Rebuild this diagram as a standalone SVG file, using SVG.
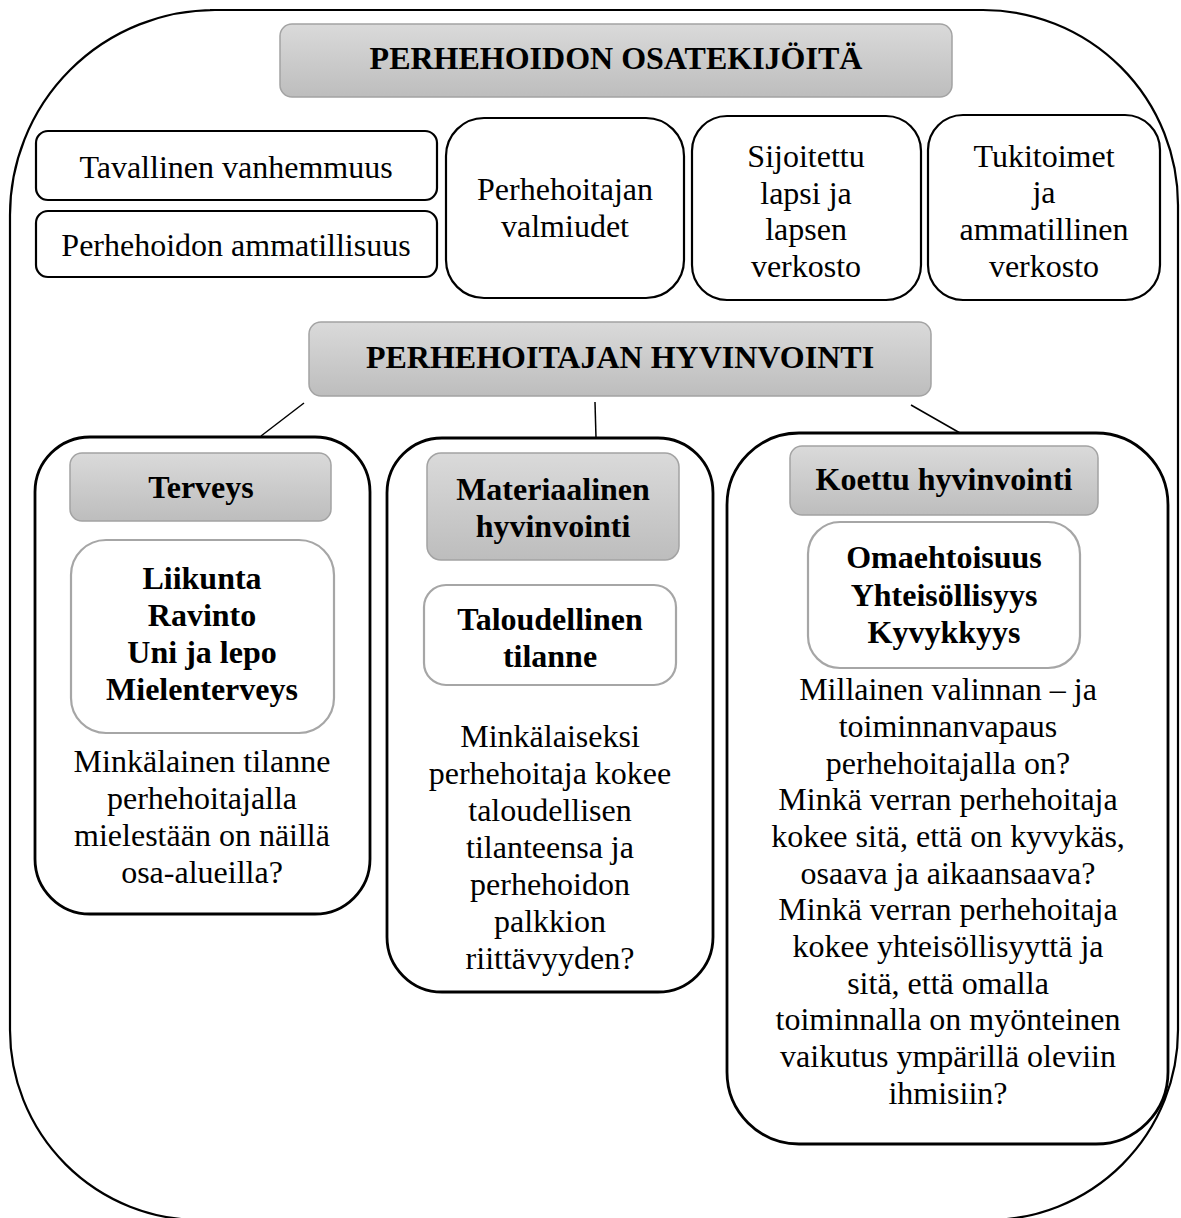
<svg xmlns="http://www.w3.org/2000/svg" width="1181" height="1218" viewBox="0 0 1181 1218">
<defs>
<linearGradient id="g" x1="0" y1="0" x2="0" y2="1">
<stop offset="0" stop-color="#dadada"/>
<stop offset="1" stop-color="#bdbdbd"/>
</linearGradient>
<style>
text{font-family:"Liberation Serif","Times New Roman",serif;font-size:32px;fill:#000;text-anchor:middle}
.b{font-weight:bold}
.hdr{fill:url(#g);stroke:#a3a3a3;stroke-width:1.5}
.box{fill:#fff;stroke:#000;stroke-width:2.2}
.grp{fill:#fff;stroke:#000;stroke-width:2.8}
.inner{fill:#fff;stroke:#a6a6a6;stroke-width:2.2}
.con{stroke:#000;stroke-width:1.5;fill:none}
</style>
</defs>
<rect width="1181" height="1218" fill="#fff"/>
<g id="outer">
<path d="M 210 10 H 983 A 195 195 0 0 1 1178 205 V 1030 A 190 190 0 0 1 988 1220 H 200 A 190 190 0 0 1 10 1030 V 215 A 205 205 0 0 1 215 10 Z" fill="none" stroke="#000" stroke-width="2.2"/>
</g>
<g id="title-osatekijoita">
<rect class="hdr" x="280" y="24" width="672" height="73" rx="12"/>
<text class="b" x="616" y="69">PERHEHOIDON OSATEKIJÖITÄ</text>
</g>
<g id="tavallinen">
<rect class="box" x="36" y="131" width="401" height="69" rx="12"/>
<text x="236" y="178">Tavallinen vanhemmuus</text>
</g>
<g id="ammatillisuus">
<rect class="box" x="36" y="211" width="401" height="66" rx="12"/>
<text x="236" y="256">Perhehoidon ammatillisuus</text>
</g>
<g id="valmiudet">
<rect class="box" x="446" y="118" width="238" height="180" rx="38"/>
<text x="565" y="200">Perhehoitajan</text>
<text x="565" y="237">valmiudet</text>
</g>
<g id="sijoitettu">
<rect class="box" x="692" y="116" width="229" height="184" rx="35"/>
<text x="806" y="167">Sijoitettu</text>
<text x="806" y="204">lapsi ja</text>
<text x="806" y="240">lapsen</text>
<text x="806" y="277">verkosto</text>
</g>
<g id="tukitoimet">
<rect class="box" x="928" y="115" width="232" height="185" rx="35"/>
<text x="1044" y="167">Tukitoimet</text>
<text x="1044" y="203">ja</text>
<text x="1044" y="240">ammatillinen</text>
<text x="1044" y="277">verkosto</text>
</g>
<g id="title-hyvinvointi">
<rect class="hdr" x="309" y="322" width="622" height="74" rx="12"/>
<text class="b" x="620" y="368">PERHEHOITAJAN HYVINVOINTI</text>
</g>
<g id="connectors">
<line class="con" x1="304" y1="403" x2="261" y2="436"/>
<line class="con" x1="595" y1="402" x2="596" y2="438"/>
<line class="con" x1="911" y1="405" x2="960" y2="433"/>
</g>
<g id="terveys">
<rect class="grp" x="35" y="437" width="335" height="477" rx="55"/>
<rect class="hdr" x="70" y="453" width="261" height="68" rx="12"/>
<text class="b" x="201" y="498">Terveys</text>
<rect class="inner" x="71" y="540" width="263" height="193" rx="35"/>
<text class="b" x="202" y="589">Liikunta</text>
<text class="b" x="202" y="626">Ravinto</text>
<text class="b" x="202" y="663">Uni ja lepo</text>
<text class="b" x="202" y="700">Mielenterveys</text>
<text x="202" y="772">Minkälainen tilanne</text>
<text x="202" y="809">perhehoitajalla</text>
<text x="202" y="846">mielestään on näillä</text>
<text x="202" y="883">osa-alueilla?</text>
</g>
<g id="materiaalinen">
<rect class="grp" x="387" y="438" width="326" height="554" rx="55"/>
<rect class="hdr" x="427" y="453" width="252" height="107" rx="14"/>
<text class="b" x="553" y="500">Materiaalinen</text>
<text class="b" x="553" y="537">hyvinvointi</text>
<rect class="inner" x="424" y="585" width="252" height="100" rx="22"/>
<text class="b" x="550" y="630">Taloudellinen</text>
<text class="b" x="550" y="667">tilanne</text>
<text x="550" y="747">Minkälaiseksi</text>
<text x="550" y="784">perhehoitaja kokee</text>
<text x="550" y="821">taloudellisen</text>
<text x="550" y="858">tilanteensa ja</text>
<text x="550" y="895">perhehoidon</text>
<text x="550" y="932">palkkion</text>
<text x="550" y="969">riittävyyden?</text>
</g>
<g id="koettu">
<rect class="grp" x="727" y="433" width="441" height="711" rx="72"/>
<rect class="hdr" x="790" y="446" width="308" height="69" rx="12"/>
<text class="b" x="944" y="490">Koettu hyvinvointi</text>
<rect class="inner" x="808" y="522" width="272" height="146" rx="32"/>
<text class="b" x="944" y="568">Omaehtoisuus</text>
<text class="b" x="944" y="606">Yhteisöllisyys</text>
<text class="b" x="944" y="643">Kyvykkyys</text>
<text x="948" y="700">Millainen valinnan – ja</text>
<text x="948" y="737">toiminnanvapaus</text>
<text x="948" y="774">perhehoitajalla on?</text>
<text x="948" y="810">Minkä verran perhehoitaja</text>
<text x="948" y="847">kokee sitä, että on kyvykäs,</text>
<text x="948" y="884">osaava ja aikaansaava?</text>
<text x="948" y="920">Minkä verran perhehoitaja</text>
<text x="948" y="957">kokee yhteisöllisyyttä ja</text>
<text x="948" y="994">sitä, että omalla</text>
<text x="948" y="1030">toiminnalla on myönteinen</text>
<text x="948" y="1067">vaikutus ympärillä oleviin</text>
<text x="948" y="1104">ihmisiin?</text>
</g>
</svg>
